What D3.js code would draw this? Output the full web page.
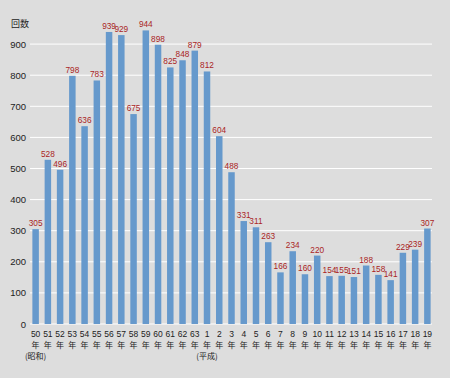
<!DOCTYPE html>
<html>
<head>
<meta charset="utf-8">
<script src="https://d3js.org/d3.v7.min.js"></script>
<style>
  body { margin: 0; background: #dddddd; }
  svg { display: block; }
</style>
</head>
<body>
<div id="chart"></div>
<script>
// years: Showa 50-63, Heisei 1-19
var years = ["50","51","52","53","54","55","56","57","58","59","60","61","62","63",
             "1","2","3","4","5","6","7","8","9","10","11","12","13","14","15","16","17","18","19"];
var counts = [305,528,496,798,636,783,939,929,675,944,898,825,848,879,
              812,604,488,331,311,263,166,234,160,220,154,155,151,188,158,141,229,239,307];
var eraLabels = { "50": "(昭和)", "1": "(平成)" };
var yTicks = [0,100,200,300,400,500,600,700,800,900];

var width = 450, height = 378;
var svg = d3.select("#chart").append("svg")
  .attr("width", width).attr("height", height);

svg.append("rect").attr("width", width).attr("height", height).attr("fill", "#dddddd");

var x = d3.scaleBand()
  .domain(years)
  .range([29.5, 433.5])
  .paddingInner(0.47)
  .paddingOuter(0.235);

var y = d3.scaleLinear()
  .domain([0, 1000])
  .range([324, 13]);

var numFont = "'Liberation Sans Narrow', 'Liberation Sans', sans-serif";
var jpFont = "'Noto Sans CJK JP', sans-serif";

// gridlines
svg.selectAll(".grid").data(yTicks).enter().append("line")
  .attr("x1", 30).attr("x2", 432)
  .attr("y1", function(d){ return y(d); })
  .attr("y2", function(d){ return y(d); })
  .attr("stroke", "#ffffff").attr("stroke-width", 1);

// y tick labels
svg.selectAll(".ytick").data(yTicks).enter().append("text")
  .attr("x", 26)
  .attr("y", function(d){ return y(d) + 3.5; })
  .attr("text-anchor", "end")
  .attr("font-family", numFont).attr("font-size", 9.5).attr("fill", "#222")
  .text(function(d){ return d; });

svg.append("text")
  .attr("x", 11).attr("y", 27)
  .attr("font-family", jpFont).attr("font-size", 9).attr("fill", "#222")
  .text("回数");

// bars
svg.selectAll(".bar").data(counts).enter().append("rect")
  .attr("x", function(d,i){ return x(years[i]); })
  .attr("y", function(d){ return y(d); })
  .attr("width", x.bandwidth())
  .attr("height", function(d){ return y(0) - y(d); })
  .attr("fill", "#6699cc");

// value labels
svg.selectAll(".val").data(counts).enter().append("text")
  .attr("x", function(d,i){ return x(years[i]) + x.bandwidth()/2; })
  .attr("y", function(d){ return y(d) - 3; })
  .attr("text-anchor", "middle")
  .attr("font-family", numFont).attr("font-size", 8.3).attr("fill", "#aa1f1f")
  .text(function(d){ return d; });

// x labels
var xl = svg.selectAll(".xl").data(years).enter().append("g")
  .attr("transform", function(d){ return "translate(" + (x(d) + x.bandwidth()/2) + ",0)"; });
xl.append("text")
  .attr("y", 337).attr("text-anchor", "middle")
  .attr("font-family", numFont).attr("font-size", 8.5).attr("fill", "#222")
  .text(function(d){ return d; });
xl.append("text")
  .attr("y", 347.5).attr("text-anchor", "middle")
  .attr("font-family", jpFont).attr("font-size", 8).attr("fill", "#222")
  .text("年");
xl.filter(function(d){ return eraLabels[d]; }).append("text")
  .attr("y", 359).attr("text-anchor", "middle")
  .attr("font-family", jpFont).attr("font-size", 8).attr("fill", "#222")
  .text(function(d){ return eraLabels[d]; });
</script>
</body>
</html>
